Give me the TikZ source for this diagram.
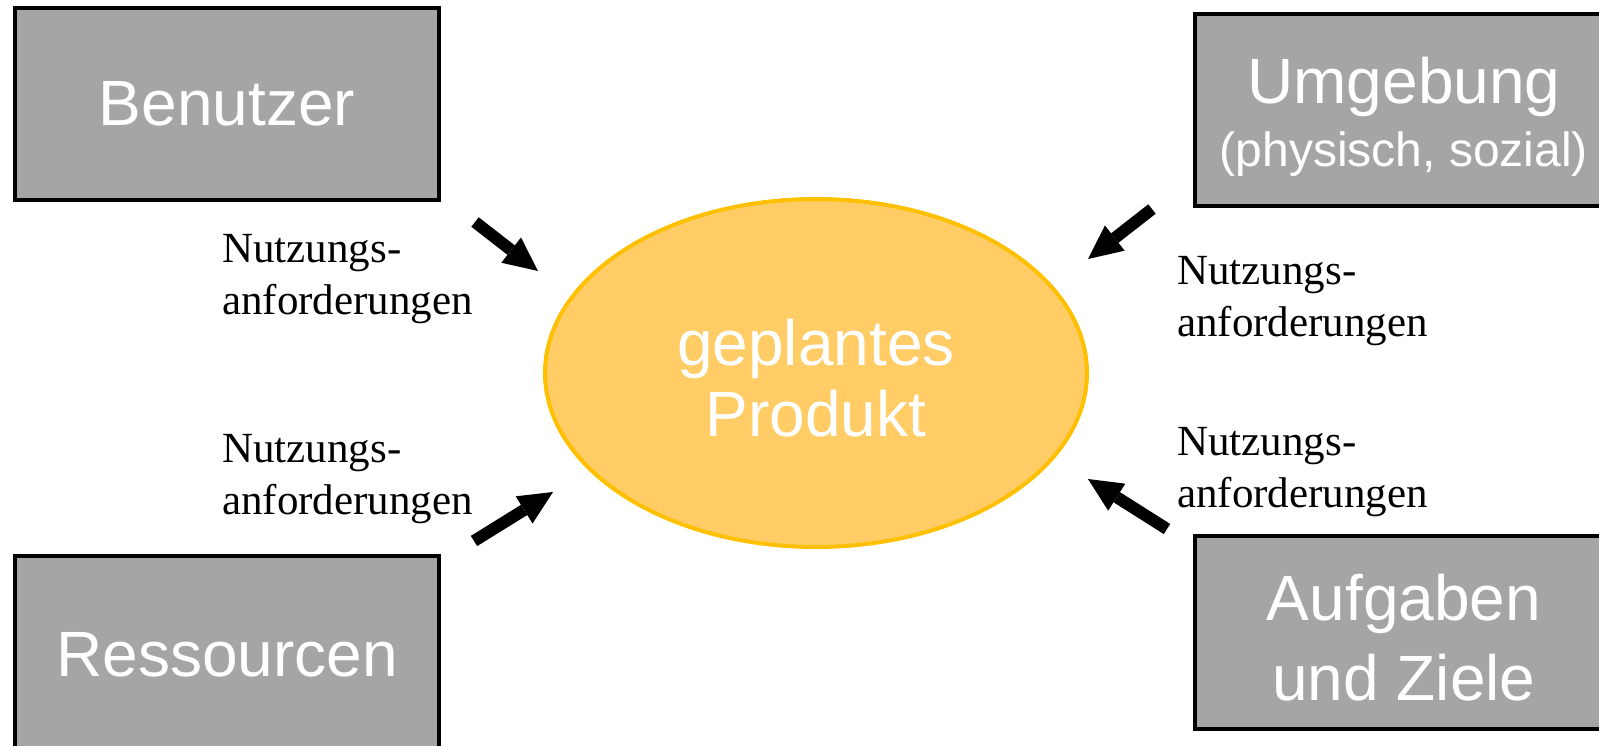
\documentclass[tikz,border=0pt]{standalone}
\usepackage{fontspec}
\setmainfont{Liberation Serif}
\setsansfont{Liberation Sans}
\usetikzlibrary{shapes.geometric,arrows.meta}
\definecolor{boxGray}{RGB}{165,165,165}
\definecolor{productFill}{RGB}{255,204,102}
\definecolor{productLine}{RGB}{255,192,0}

\begin{document}
\begin{tikzpicture}[x=1pt,y=-1pt,
    factorBox/.style={draw=black,line width=4pt,fill=boxGray,text=white,inner sep=0pt,
      align=center,font=\sffamily\fontsize{64}{70}\selectfont},
    productNode/.style={ellipse,draw=productLine,line width=4pt,fill=productFill,text=white,
      inner sep=0pt,minimum width=542pt,minimum height=348pt,align=center,
      font=\sffamily\fontsize{64}{71}\selectfont},
    reqLabel/.style={anchor=base west,inner sep=0pt,align=left,font=\fontsize{43}{52}\selectfont},
    influence/.style={line width=12pt,-{Triangle[length=34pt,width=32pt,line width=0pt]}}]

      \useasboundingbox (0,0) rectangle (1599,746);

      % the product in the middle
      \node[productNode,text height=126pt,text depth=0pt] (produkt) at (816,373) {geplantes\\Produkt};

      % the four boxes round it
      \node[factorBox,minimum width=424pt,minimum height=192pt] (benutzer) at (227,104) {Benutzer};
      \node[factorBox,minimum width=424pt,minimum height=198pt] (ressourcen) at (227,655) {Ressourcen};
      \node[factorBox,minimum width=418pt,minimum height=192pt,text height=114pt,text depth=0pt,
        font=\sffamily\fontsize{64}{63}\selectfont] (umgebung) at (1404,110)
        {Umgebung\\{\fontsize{48}{63}\selectfont (physisch, sozial)}};
      \node[factorBox,minimum width=418pt,minimum height=193pt,text height=136pt,text depth=0pt,
        font=\sffamily\fontsize{64}{80}\selectfont] (aufgaben) at (1404,632) {Aufgaben\\und Ziele};

      % the requirement labels (placed by their last line)
      \foreach \x/\y [count=\ni] in {222/314,1177/336,222/514,1177/507}
        \node[reqLabel] (req\ni) at (\x,\y) {Nutzungs-\\anforderungen};

      % the arrows pointing at the product
      \coordinate (tailA) at (475,222);  \coordinate (tipA) at (538,271);
      \coordinate (tailB) at (474,541);  \coordinate (tipB) at (553,492);
      \coordinate (tailC) at (1152,209); \coordinate (tipC) at (1088,259);
      \coordinate (tailD) at (1167,529); \coordinate (tipD) at (1088,479);
      \foreach \from/\to in {tailA/tipA,tailB/tipB,tailC/tipC,tailD/tipD}
        \draw[influence] (\from) -- (\to);

\end{tikzpicture}
\end{document}
